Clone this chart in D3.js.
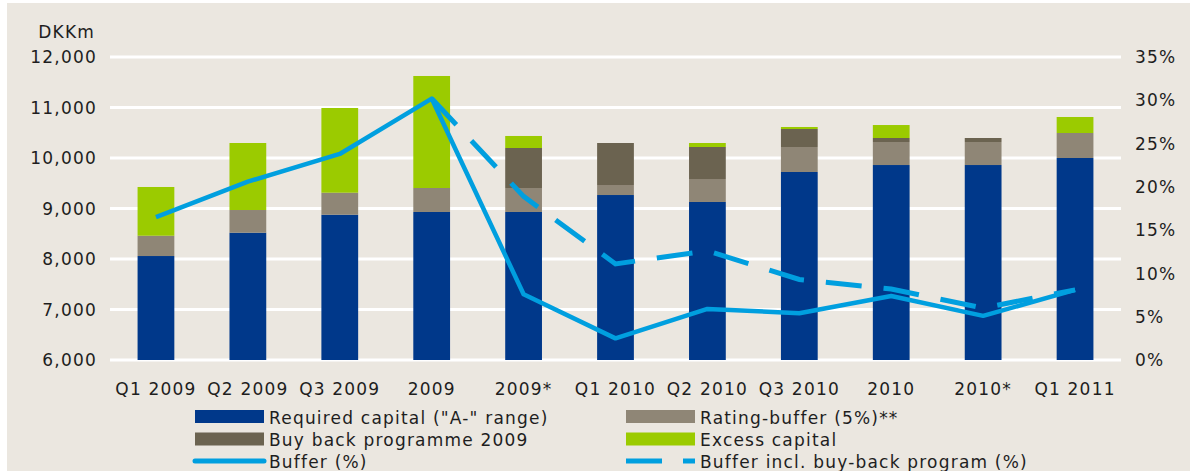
<!DOCTYPE html>
<html>
<head>
<meta charset="utf-8">
<script src="https://cdn.jsdelivr.net/npm/d3@7"></script>
<style>
  body { margin: 0; background: #fff; }
  svg text { font-family: "DejaVu Sans", Verdana, sans-serif; font-size: 17px; letter-spacing: 1.2px; fill: #1e1e1e; }
</style>
</head>
<body>
<div id="chart"></div>
<script>
const categories = ["Q1 2009", "Q2 2009", "Q3 2009", "2009", "2009*", "Q1 2010", "Q2 2010", "Q3 2010", "2010", "2010*", "Q1 2011"];
const requiredCapital = [8059, 8521, 8877, 8931, 8931, 9267, 9129, 9723, 9861, 9861, 10000];
const ratingBuffer = [402, 449, 436, 475, 475, 198, 455, 495, 456, 456, 495];
const buyBack = [0, 0, 0, 0, 792, 832, 634, 356, 79, 79, 0];
const excessCapital = [965, 1327, 1677, 2218, 238, 0, 79, 40, 257, 0, 317];
const bufferPct = [16.5, 20.6, 23.8, 30.2, 7.6, 2.5, 5.9, 5.4, 7.4, 5.1, 8.1];
const bufferInclBuyBackPct = [null, null, null, 30.2, 18.9, 11.1, 12.6, 9.3, 8.2, 6.0, 8.1];
const leftTicks = [6000, 7000, 8000, 9000, 10000, 11000, 12000];
const rightTicks = [0, 5, 10, 15, 20, 25, 30, 35];

const W = 1190, H = 471;
const plot = { left: 110, right: 1121, top: 57, bottom: 360 };
const colors = {
  required: "#00388A",
  rating: "#8F8676",
  buyBack: "#6B6350",
  excess: "#9BCB00",
  line: "#009FDF"
};

const svg = d3.select("#chart")
  .append("svg")
  .attr("width", W)
  .attr("height", H);

// beige panel
svg.append("rect")
  .attr("x", 7).attr("y", 3)
  .attr("width", W - 7).attr("height", H - 3)
  .attr("fill", "#EBE7E0");

const x = d3.scaleBand()
  .domain(categories)
  .range([plot.left, plot.right])
  .paddingInner(0.6)
  .paddingOuter(0.3);
const yLeft = d3.scaleLinear().domain([6000, 12000]).range([plot.bottom, plot.top]);
const yRight = d3.scaleLinear().domain([0, 35]).range([plot.bottom, plot.top]);

// gridlines
svg.append("g")
  .selectAll("line")
  .data(leftTicks)
  .enter()
  .append("line")
  .attr("x1", plot.left)
  .attr("x2", plot.right)
  .attr("y1", d => yLeft(d))
  .attr("y2", d => yLeft(d))
  .attr("stroke", "#fff")
  .attr("stroke-width", 3);

// left axis labels
svg.append("g")
  .selectAll("text")
  .data(leftTicks)
  .enter()
  .append("text")
  .attr("x", 97)
  .attr("y", d => yLeft(d))
  .attr("dy", "0.36em")
  .attr("text-anchor", "end")
  .text(d => d3.format(",")(d));
svg.append("text")
  .attr("x", 95)
  .attr("y", 38)
  .attr("text-anchor", "end")
  .text("DKKm");

// right axis labels
svg.append("g")
  .selectAll("text")
  .data(rightTicks)
  .enter()
  .append("text")
  .attr("x", 1135)
  .attr("y", d => yRight(d))
  .attr("dy", "0.36em")
  .text(d => d + "%");

// x labels
svg.append("g")
  .selectAll("text")
  .data(categories)
  .enter()
  .append("text")
  .attr("x", d => x(d) + x.bandwidth() / 2)
  .attr("y", 395)
  .attr("text-anchor", "middle")
  .text(d => d);

// stacked bars
const keys = ["required", "rating", "buyBack", "excess"];
const table = categories.map((c, i) => ({
  category: c,
  required: requiredCapital[i] - 6000,
  rating: ratingBuffer[i],
  buyBack: buyBack[i],
  excess: excessCapital[i]
}));
const stacked = d3.stack().keys(keys)(table);
svg.append("g")
  .selectAll("g")
  .data(stacked)
  .enter()
  .append("g")
  .attr("fill", d => colors[d.key])
  .selectAll("rect")
  .data(d => d)
  .enter()
  .append("rect")
  .attr("x", d => x(d.data.category))
  .attr("width", x.bandwidth())
  .attr("y", d => yLeft(d[1] + 6000))
  .attr("height", d => yLeft(d[0] + 6000) - yLeft(d[1] + 6000));

// lines
const line = d3.line()
  .defined(d => d.v !== null)
  .x(d => x(d.c) + x.bandwidth() / 2)
  .y(d => yRight(d.v));
svg.append("path")
  .datum(categories.map((c, i) => ({ c: c, v: bufferPct[i] })))
  .attr("fill", "none")
  .attr("stroke", colors.line)
  .attr("stroke-width", 4.5)
  .attr("stroke-linejoin", "round")
  .attr("d", line);
svg.append("path")
  .datum(categories.map((c, i) => ({ c: c, v: bufferInclBuyBackPct[i] })).filter(d => d.v !== null))
  .attr("fill", "none")
  .attr("stroke", colors.line)
  .attr("stroke-width", 5)
  .attr("stroke-dasharray", "36,22")
  .attr("d", line);

// legend
const legendItems = [
  { label: "Required capital (\"A-\" range)", type: "rect", color: colors.required, col: 0, row: 0 },
  { label: "Rating-buffer (5%)**", type: "rect", color: colors.rating, col: 1, row: 0 },
  { label: "Buy back programme 2009", type: "rect", color: colors.buyBack, col: 0, row: 1 },
  { label: "Excess capital", type: "rect", color: colors.excess, col: 1, row: 1 },
  { label: "Buffer (%)", type: "line", color: colors.line, col: 0, row: 2 },
  { label: "Buffer incl. buy-back program (%)", type: "dash", color: colors.line, col: 1, row: 2 }
];
const colX = [195, 626];
const rowY = [416.5, 439, 461];
const legend = svg.append("g");
legendItems.forEach(item => {
  const lx = colX[item.col], ly = rowY[item.row];
  if (item.type === "rect") {
    legend.append("rect")
      .attr("x", lx).attr("y", ly - 6.5)
      .attr("width", 69).attr("height", 13)
      .attr("fill", item.color);
  } else if (item.type === "line") {
    legend.append("line")
      .attr("x1", lx).attr("x2", lx + 69)
      .attr("y1", ly).attr("y2", ly)
      .attr("stroke", item.color)
      .attr("stroke-width", 5)
      .attr("stroke-linecap", "round");
  } else {
    legend.append("line")
      .attr("x1", lx).attr("x2", lx + 69)
      .attr("y1", ly).attr("y2", ly)
      .attr("stroke", item.color)
      .attr("stroke-width", 5)
      .attr("stroke-dasharray", "36,21");
  }
  legend.append("text")
    .attr("x", lx + 74)
    .attr("y", ly + 7)
    .text(item.label);
});
</script>
</body>
</html>
